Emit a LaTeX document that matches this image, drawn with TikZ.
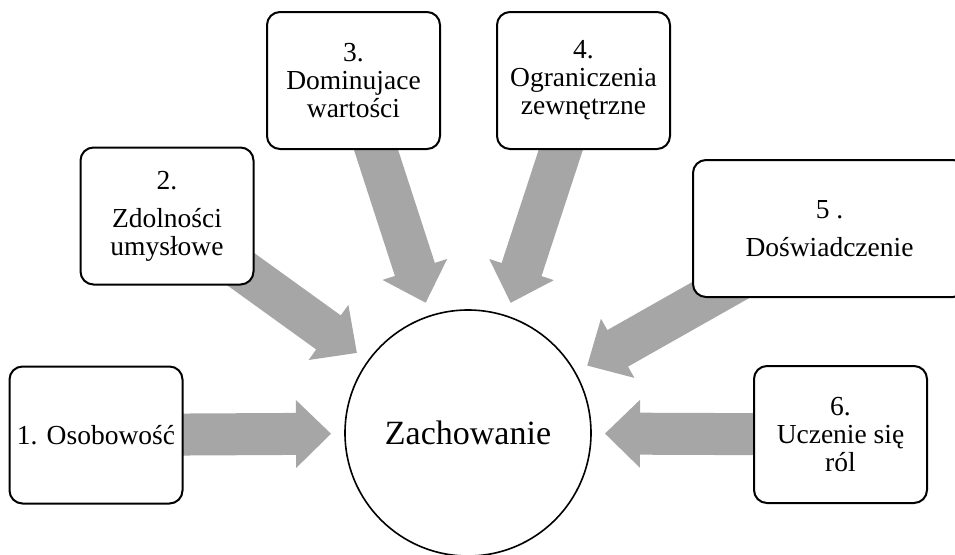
\documentclass[tikz,border=0pt]{standalone}
\usepackage{fontspec}
\setmainfont{Liberation Serif}
\usetikzlibrary{calc,backgrounds}
\definecolor{arrowgray}{RGB}{166,166,166}
\tikzset{
	box/.style={draw, line width=2pt, rounded corners=13pt, fill=white, minimum width=173pt, minimum height=137pt, inner sep=0pt, align=center, font=\fontsize{27.5}{28}\selectfont},
}
\def\blockarrow(#1){
	\coordinate (tip) at ($(zach.center)!137pt!(#1.center)$);
	\coordinate (base) at ($(tip)!35pt!(#1.center)$);
	\fill[arrowgray] ($(#1.center)!21pt!90:(tip)$) -- ($(base)!21pt!90:(tip)$) -- ($(base)!34pt!90:(tip)$) -- (tip) -- ($(base)!34pt!-90:(tip)$) -- ($(base)!21pt!-90:(tip)$) -- ($(#1.center)!21pt!-90:(tip)$) -- cycle;
}

\begin{document}
\begin{tikzpicture}[x=1pt, y=-1pt]
			%%%%% START %%%%%
			
			\useasboundingbox (0, 0) rectangle (955, 554);
			\clip (0, 0) rectangle (955, 554);
			
			\node[draw, circle, minimum size=246pt, inner sep=0pt, line width=1.6pt, font=\fontsize{34}{40}\selectfont] (zach) at (468, 433) {Zachowanie};
			
			\node[box] (osob) at (96, 435) {1. Osobowość};
			\node[box] (zdol) at (167, 216) {2.\\[10pt]Zdolności\\umysłowe};
			\node[box] (domi) at (353.5, 80.5) {3.\\Dominujace\\wartości};
			\node[box] (ogra) at (583.5, 80.5) {4.\\Ograniczenia\\zewnętrzne};
			\node[box, minimum width=273pt] (dosw) at (829.5, 228.5) {5 .\\[10pt]Doświadczenie};
			\node[box] (ucze) at (840.5, 434.5) {6.\\Uczenie się\\ról};
			
			\begin{scope}[on background layer]
				\foreach \src in {osob, zdol, domi, ogra, dosw, ucze}
					{\blockarrow(\src)}
			\end{scope}
			
			%%%%% END %%%%%
\end{tikzpicture}
\end{document}
